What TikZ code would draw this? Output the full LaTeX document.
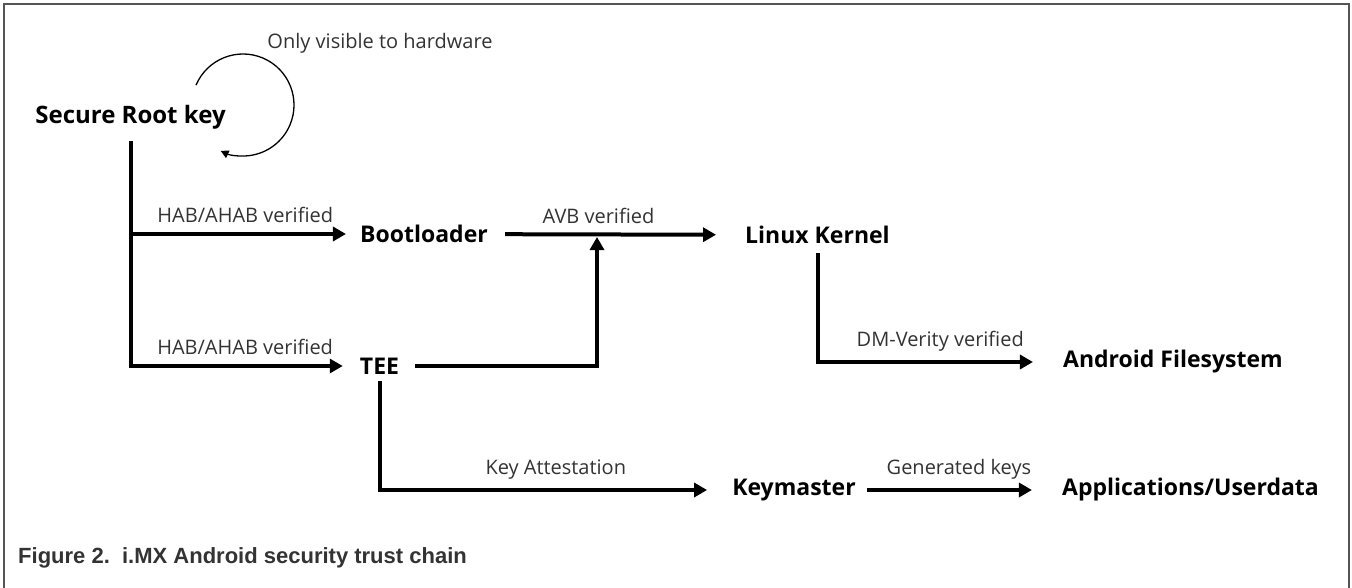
\documentclass[tikz,border=0pt]{standalone}
\usepackage{fontspec}
\setmainfont{Open Sans}
\newfontfamily\capfont{Liberation Sans}
\usetikzlibrary{arrows.meta}
\definecolor{framegrey}{HTML}{555555}
\definecolor{notegrey}{HTML}{333333}
\tikzset{
	keybox/.style={font=\bfseries\fontsize{23}{27}\selectfont, inner sep=0pt},
	notetag/.style={font=\fontsize{20}{24}\selectfont, text=notegrey, inner sep=0pt},
	chain/.style={line width=4pt, -{Triangle[length=13pt, width=14pt]}, shorten <=16pt, shorten >=15pt},
	ontop/.style={notetag, above, yshift=9pt},
}

\begin{document}
\begin{tikzpicture}[x=1pt, y=-1pt]
			%%%%% START %%%%%
			\useasboundingbox (0, 0) rectangle (1352, 588);
			
			\draw[line width=2.5pt, color=framegrey] (4, 588) -- (4, 4) -- (1349, 4) -- (1349, 588);
			
			\node[keybox, font=\bfseries\fontsize{24}{28}\selectfont] (root) at (130.5, 117) {Secure Root key};
			\node[keybox] (boot) at (424, 234) {Bootloader};
			\node[keybox] (tee) at (379.5, 366) {TEE};
			\node[keybox] (kernel) at (817.5, 235) {Linux Kernel};
			\node[keybox] (android) at (1173, 362) {Android Filesystem};
			\node[keybox] (keym) at (794, 490) {Keymaster};
			\node[keybox] (apps) at (1190.5, 490) {Applications/Userdata};
			
			\node[notetag] (hwnote) at (380, 43) {Only visible to hardware};
			\coordinate (loopc) at (243, 105);
			\draw[line width=1.3pt, -{Triangle[length=8pt, width=8pt]}] (loopc) ++(203:51) arc (203:476:51);
			
			% root key to bootloader and TEE
			\draw[chain, shorten <=12pt, shorten >=17pt] (root) -- (root |- tee) -- node[ontop] (habtee) {HAB/AHAB verified} (tee);
			\draw[chain, shorten <=0pt, shorten >=14pt] (root |- boot) -- node[ontop] (habboot) {HAB/AHAB verified} (boot);
			
			% into the kernel
			\coordinate (avbjoin) at (597, 237);
			\draw[chain, shorten <=17pt, shorten >=29pt] (boot) -- node[ontop, pos=0.43] (avb) {AVB verified} (kernel);
			\draw[chain, shorten >=0pt] (tee) -| (avbjoin);
			
			\draw[chain, shorten <=9pt, shorten >=30pt] (kernel) |- node[ontop, pos=0.75] (dmv) {DM-Verity verified} (android);
			
			% keys
			\draw[chain, shorten <=7pt, shorten >=25pt] (tee) |- node[ontop, pos=0.75] (attest) {Key Attestation} (keym);
			\draw[chain, shorten <=11pt, shorten >=30pt] (keym) -- node[ontop] (genkeys) {Generated keys} (apps);
			
			\node[anchor=west, inner sep=0pt, text=notegrey, font=\capfont\bfseries\fontsize{22}{26}\selectfont] (figcap) at (18, 558) {Figure 2.\ \ i.MX Android security trust chain};
			%%%%% END %%%%%
\end{tikzpicture}
\end{document}
